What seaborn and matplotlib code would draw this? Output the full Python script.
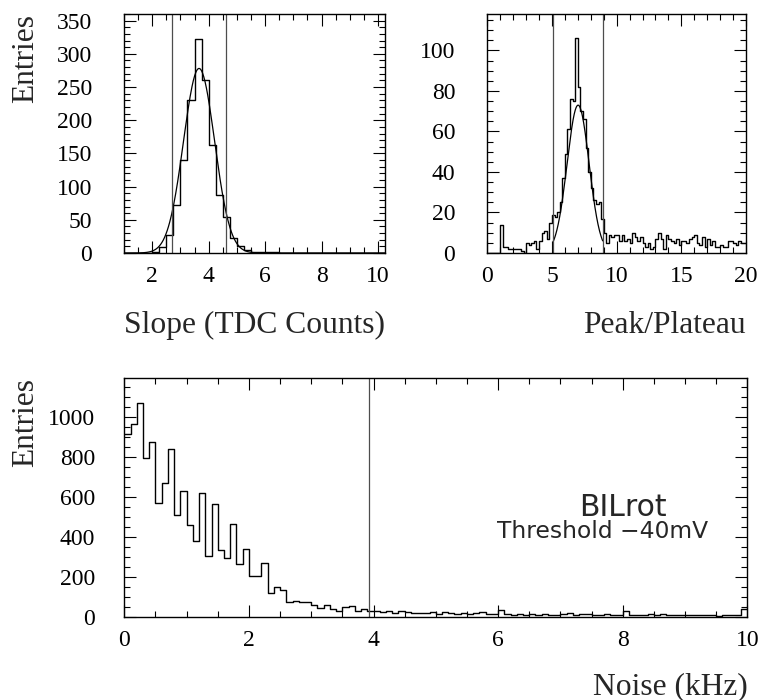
import numpy as np
import pandas as pd
import matplotlib
matplotlib.use("Agg")
import matplotlib.pyplot as plt
from matplotlib.ticker import MultipleLocator, FixedLocator
import seaborn as sns

# ---------------- data ----------------
# Slope histogram: bins of 0.25 from 1.0 to 10.25
slope_start, slope_width = 1.0, 0.25
slope_counts = [0, 0, 0, 0, 2, 9, 27, 72, 140, 231, 322, 261, 162, 87, 54, 22, 10, 4,
                2, 1, 1, 1, 0, 0, 0, 0, 0, 0, 0, 0, 0, 0, 0, 0, 0, 0, 0]
slope_fit = dict(amp=278, mean=3.66, sigma=0.55)
slope_cuts = [2.70, 4.62]

# Peak/Plateau histogram: bins of 0.2 from 0 to 20
peak_start, peak_width = 0.0, 0.2
peak_counts = [0, 0, 0, 0, 0, 14, 3, 3, 2, 2, 2, 2, 2, 1, 0, 5, 4, 5, 6, 2,
               6, 10, 11, 7, 15, 19, 18, 20, 25, 37, 49, 61, 76, 75, 106, 82, 70, 66, 52, 40,
               32, 26, 24, 25, 17, 10, 5, 9, 8, 9, 9, 6, 9, 6, 7, 5, 10, 8, 6, 8,
               5, 3, 5, 2, 3, 7, 10, 7, 2, 9, 7, 6, 5, 7, 4, 6, 6, 5, 7, 8,
               9, 5, 4, 8, 3, 7, 4, 6, 3, 3, 4, 3, 3, 6, 6, 5, 4, 6, 5, 5]
peak_fit = dict(amp=73, mean=7.02, sigma=0.85, lo=5.1, hi=8.92)
peak_cuts = [5.1, 8.92]

# Noise histogram: bins of 0.1 from 0 to 10
noise_start, noise_width = 0.0, 0.1
noise_counts = [917, 967, 1072, 795, 875, 572, 670, 840, 512, 628,
                458, 382, 618, 307, 563, 333, 293, 467, 263, 340,
                203, 203, 270, 120, 150, 135, 73, 80, 77, 77,
                58, 45, 60, 38, 32, 48, 53, 32, 40, 28,
                32, 25, 30, 22, 28, 25, 18, 22, 20, 27,
                16, 25, 20, 14, 22, 15, 18, 26, 14, 17,
                33, 15, 12, 16, 12, 13, 10, 15, 12, 10,
                14, 20, 11, 13, 16, 10, 12, 15, 10, 12,
                30, 9, 12, 10, 14, 9, 13, 12, 8, 10,
                11, 8, 12, 9, 10, 7, 11, 9, 10, 40]
noise_cut = 3.93
label_main = "BILrot"
label_sub = "Threshold \u221240mV"


def hist_frame(start, width, counts):
    n = len(counts)
    centers = start + width * (np.arange(n) + 0.5)
    return pd.DataFrame({"x": centers, "w": counts}), n, (start, start + width * n)


# ---------------- style ----------------
sns.set_style("ticks")
plt.rcParams["font.family"] = ["Liberation Serif", "DejaVu Serif"]
plt.rcParams["axes.linewidth"] = 1.0

fig = plt.figure(figsize=(7.58, 7.0), dpi=100)
W, H = 758.0, 700.0
ax1 = fig.add_axes([124 / W, 1 - 253 / H, (385 - 124) / W, (253 - 14) / H])
ax2 = fig.add_axes([487.3 / W, 1 - 253 / H, (746 - 487.3) / W, (253 - 14) / H])
ax3 = fig.add_axes([124.3 / W, 1 - 617 / H, (747.3 - 124.3) / W, (617 - 378) / H])

hist_kw = dict(element="step", fill=False, color="black", linewidth=1.0, stat="count")

# --- slope ---
df, n, rng = hist_frame(slope_start, slope_width, slope_counts)
sns.histplot(data=df, x="x", weights="w", bins=n, binrange=rng, ax=ax1, **hist_kw)
xs = np.linspace(rng[0], rng[1], 400)
ys = slope_fit["amp"] * np.exp(-0.5 * ((xs - slope_fit["mean"]) / slope_fit["sigma"]) ** 2)
sns.lineplot(x=xs, y=ys, ax=ax1, color="black", linewidth=0.9)
for c in slope_cuts:
    ax1.axvline(c, color="0.3", linewidth=0.9)
ax1.set_xlim(*rng)
ax1.set_ylim(0, 360)
ax1.xaxis.set_major_locator(FixedLocator([2, 4, 6, 8, 10]))
ax1.xaxis.set_minor_locator(MultipleLocator(0.5))
ax1.yaxis.set_major_locator(MultipleLocator(50))
ax1.yaxis.set_minor_locator(MultipleLocator(10))

# --- peak / plateau ---
df, n, rng = hist_frame(peak_start, peak_width, peak_counts)
sns.histplot(data=df, x="x", weights="w", bins=n, binrange=rng, ax=ax2, **hist_kw)
xs = np.linspace(peak_fit["lo"], peak_fit["hi"], 300)
ys = peak_fit["amp"] * np.exp(-0.5 * ((xs - peak_fit["mean"]) / peak_fit["sigma"]) ** 2)
sns.lineplot(x=xs, y=ys, ax=ax2, color="black", linewidth=0.9)
for c in peak_cuts:
    ax2.axvline(c, color="0.3", linewidth=0.9)
ax2.set_xlim(*rng)
ax2.set_ylim(0, 118)
ax2.xaxis.set_major_locator(FixedLocator([0, 5, 10, 15, 20]))
ax2.xaxis.set_minor_locator(MultipleLocator(1))
ax2.yaxis.set_major_locator(MultipleLocator(20))
ax2.yaxis.set_minor_locator(MultipleLocator(5))

# --- noise ---
df, n, rng = hist_frame(noise_start, noise_width, noise_counts)
sns.histplot(data=df, x="x", weights="w", bins=n, binrange=rng, ax=ax3, **hist_kw)
ax3.axvline(noise_cut, color="0.3", linewidth=0.9)
ax3.set_xlim(*rng)
ax3.set_ylim(0, 1195)
ax3.xaxis.set_major_locator(FixedLocator([0, 2, 4, 6, 8, 10]))
ax3.xaxis.set_minor_locator(MultipleLocator(0.5))
ax3.yaxis.set_major_locator(MultipleLocator(200))
ax3.yaxis.set_minor_locator(MultipleLocator(50))
ax3.text(7.30, 503, label_main, family="DejaVu Sans", fontsize=21.5,
         ha="left", va="baseline")
ax3.text(5.99, 397, label_sub, family="DejaVu Sans", fontsize=16.8,
         ha="left", va="baseline")

for ax, ypad in ((ax1, 23), (ax2, 23), (ax3, 21)):
    ax.tick_params(which="both", direction="in", top=True, right=True,
                   width=0.8, labelsize=17, colors="black")
    ax.tick_params(which="major", length=8.6)
    ax.tick_params(which="minor", length=4.3)
    ax.tick_params(axis="y", which="both", pad=ypad)
    ax.tick_params(axis="x", which="both", pad=9.5)
    for s in ax.spines.values():
        s.set_visible(True)
        s.set_color("black")
    ax.set_xlabel("")
    ax.set_ylabel("")

TFS = 22.7
ax1.set_xlabel("Slope (TDC Counts)", fontsize=TFS, loc="right")
ax1.xaxis.label.set_verticalalignment("baseline")
ax1.xaxis.set_label_coords(1.0, (253 - 333) / 239)
ax2.set_xlabel("Peak/Plateau", fontsize=TFS, loc="right")
ax2.xaxis.label.set_verticalalignment("baseline")
ax2.xaxis.set_label_coords(1.0, (253 - 333) / 239)
ax3.set_xlabel("Noise (kHz)", fontsize=TFS, loc="right")
ax3.xaxis.label.set_verticalalignment("baseline")
ax3.xaxis.set_label_coords(1.0, (617 - 694) / 239)

ax1.set_ylabel("Entries", fontsize=TFS, loc="top")
ax1.yaxis.label.set_verticalalignment("baseline")
ax1.yaxis.set_label_coords((33.5 - 124) / 261, 1.0)
ax3.set_ylabel("Entries", fontsize=TFS, loc="top")
ax3.yaxis.label.set_verticalalignment("baseline")
ax3.yaxis.set_label_coords((33.5 - 124.3) / 623, 1.0)

fig.savefig("out.png", dpi=100)
